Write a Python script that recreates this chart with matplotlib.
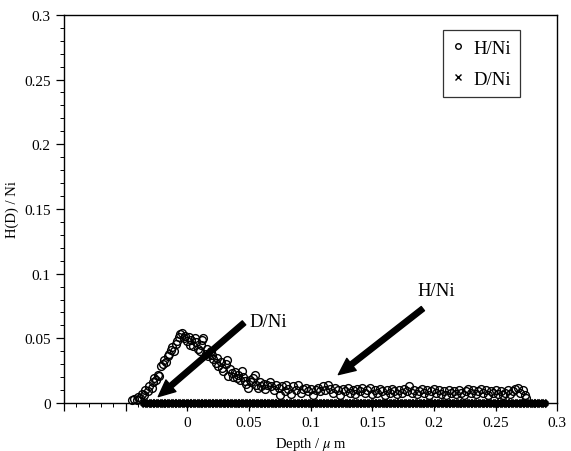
import matplotlib
matplotlib.use("Agg")
import matplotlib.pyplot as plt
from matplotlib.lines import Line2D
from matplotlib.ticker import MultipleLocator, FuncFormatter

# H/Ni profile (depth in um, ratio)
h_depth = [-0.045, -0.043, -0.041, -0.040, -0.038, -0.037, -0.035, -0.034, -0.032, -0.031,
           -0.029, -0.028, -0.027, -0.025, -0.024, -0.023, -0.021, -0.020, -0.019, -0.017,
           -0.016, -0.015, -0.013, -0.012, -0.011, -0.009, -0.008, -0.007, -0.006, -0.004,
           -0.003, -0.002, 0.000, 0.001, 0.002, 0.003, 0.005, 0.006, 0.007, 0.009,
           0.010, 0.011, 0.012, 0.013, 0.015, 0.016, 0.017, 0.019, 0.020, 0.021,
           0.023, 0.024, 0.025, 0.027, 0.028, 0.029, 0.031, 0.032, 0.033, 0.035,
           0.036, 0.037, 0.039, 0.040, 0.041, 0.043, 0.044, 0.045, 0.047, 0.048,
           0.049, 0.051, 0.052, 0.053, 0.055, 0.056, 0.057, 0.059, 0.060, 0.062,
           0.063, 0.065, 0.067, 0.068, 0.070, 0.072, 0.074, 0.075, 0.077, 0.079,
           0.080, 0.082, 0.084, 0.086, 0.088, 0.090, 0.092, 0.094, 0.096, 0.098,
           0.100, 0.102, 0.104, 0.106, 0.108, 0.110, 0.112, 0.114, 0.116, 0.118,
           0.120, 0.122, 0.124, 0.126, 0.128, 0.130, 0.132, 0.134, 0.136, 0.138,
           0.140, 0.142, 0.144, 0.146, 0.148, 0.150, 0.152, 0.154, 0.156, 0.158,
           0.160, 0.162, 0.164, 0.166, 0.168, 0.170, 0.172, 0.174, 0.176, 0.178,
           0.180, 0.182, 0.184, 0.186, 0.188, 0.190, 0.192, 0.194, 0.196, 0.198,
           0.200, 0.202, 0.204, 0.206, 0.208, 0.210, 0.212, 0.214, 0.216, 0.218,
           0.220, 0.222, 0.224, 0.226, 0.228, 0.230, 0.232, 0.234, 0.236, 0.238,
           0.240, 0.242, 0.244, 0.246, 0.248, 0.250, 0.252, 0.254, 0.256, 0.258,
           0.260, 0.262, 0.264, 0.266, 0.268, 0.270, 0.272, 0.274, 0.275]
h_ratio = [0.002, 0.003, 0.002, 0.005, 0.004, 0.007, 0.006, 0.010, 0.009, 0.013,
           0.012, 0.016, 0.019, 0.018, 0.022, 0.021, 0.029, 0.030, 0.033, 0.032,
           0.036, 0.038, 0.041, 0.043, 0.040, 0.046, 0.048, 0.051, 0.053, 0.054,
           0.050, 0.052, 0.048, 0.051, 0.045, 0.049, 0.044, 0.050, 0.047, 0.042,
           0.040, 0.045, 0.049, 0.050, 0.038, 0.042, 0.036, 0.040, 0.037, 0.034,
           0.031, 0.035, 0.029, 0.032, 0.027, 0.025, 0.030, 0.033, 0.021, 0.026,
           0.023, 0.020, 0.024, 0.019, 0.022, 0.018, 0.025, 0.020, 0.017, 0.015,
           0.012, 0.018, 0.016, 0.019, 0.022, 0.014, 0.012, 0.016, 0.013, 0.015,
           0.011, 0.014, 0.016, 0.013, 0.010, 0.014, 0.012, 0.006, 0.013, 0.009,
           0.014, 0.011, 0.007, 0.013, 0.010, 0.014, 0.008, 0.011, 0.012, 0.009,
           0.011, 0.006, 0.010, 0.012, 0.009, 0.013, 0.010, 0.014, 0.011, 0.008,
           0.012, 0.010, 0.006, 0.011, 0.009, 0.012, 0.008, 0.010, 0.007, 0.011,
           0.009, 0.012, 0.008, 0.010, 0.012, 0.007, 0.010, 0.008, 0.011, 0.009,
           0.006, 0.010, 0.008, 0.011, 0.009, 0.007, 0.010, 0.008, 0.011, 0.009,
           0.013, 0.008, 0.010, 0.007, 0.009, 0.011, 0.008, 0.010, 0.006, 0.009,
           0.011, 0.008, 0.010, 0.007, 0.009, 0.006, 0.010, 0.008, 0.009, 0.007,
           0.010, 0.008, 0.006, 0.009, 0.011, 0.008, 0.010, 0.007, 0.009, 0.011,
           0.008, 0.010, 0.006, 0.009, 0.008, 0.010, 0.007, 0.009, 0.006, 0.008,
           0.010, 0.007, 0.009, 0.011, 0.012, 0.008, 0.010, 0.006, 0.004]

# D/Ni profile: flat at zero over the whole measured depth
d_depth = [-0.035, -0.032, -0.029, -0.026, -0.023, -0.020, -0.017, -0.014, -0.011, -0.008,
           -0.005, -0.002, 0.001, 0.004, 0.007, 0.010, 0.013, 0.016, 0.019, 0.022,
           0.025, 0.028, 0.031, 0.034, 0.037, 0.040, 0.043, 0.046, 0.049, 0.052,
           0.055, 0.058, 0.061, 0.064, 0.067, 0.070, 0.073, 0.076, 0.079, 0.082,
           0.085, 0.088, 0.091, 0.094, 0.097, 0.100, 0.103, 0.106, 0.109, 0.112,
           0.115, 0.118, 0.121, 0.124, 0.127, 0.130, 0.133, 0.136, 0.139, 0.142,
           0.145, 0.148, 0.151, 0.154, 0.157, 0.160, 0.163, 0.166, 0.169, 0.172,
           0.175, 0.178, 0.181, 0.184, 0.187, 0.190, 0.193, 0.196, 0.199, 0.202,
           0.205, 0.208, 0.211, 0.214, 0.217, 0.220, 0.223, 0.226, 0.229, 0.232,
           0.235, 0.238, 0.241, 0.244, 0.247, 0.250, 0.253, 0.256, 0.259, 0.262,
           0.265, 0.268, 0.271, 0.274, 0.277, 0.280, 0.283, 0.286, 0.289]
d_ratio = [0.0] * len(d_depth)

plt.rcParams['font.family'] = ['Liberation Serif', 'DejaVu Serif']
plt.rcParams['mathtext.fontset'] = 'stix'

fig = plt.figure(figsize=(5.71, 4.52), dpi=100)
ax = fig.add_axes([0.112, 0.106, 0.864, 0.859])

ax.plot(h_depth, h_ratio, 'o', mfc='none', mec='black', ms=5.6, mew=1.0, zorder=3, clip_on=False)
# the dense D/Ni markers merge into one thick band
ax.plot(d_depth, d_ratio, 'x', color='black', ms=4.5, mew=3.4, zorder=4, clip_on=False)

ax.set_xlim(-0.1, 0.3)
ax.set_ylim(0, 0.3)
ax.xaxis.set_major_locator(MultipleLocator(0.05))
ax.xaxis.set_minor_locator(MultipleLocator(0.01))
ax.yaxis.set_major_locator(MultipleLocator(0.05))
ax.yaxis.set_minor_locator(MultipleLocator(0.01))
ax.xaxis.set_major_formatter(FuncFormatter(lambda v, p: '' if v < -1e-9 else '%g' % round(v, 3)))
ax.yaxis.set_major_formatter(FuncFormatter(lambda v, p: '%g' % round(v, 3)))
ax.tick_params(which='both', direction='out', top=False, right=False, labelsize=11)
ax.tick_params(which='major', length=6, width=0.9)
ax.tick_params(which='minor', length=3, width=0.7)
for s in ax.spines.values():
    s.set_linewidth(1.0)

ax.set_xlabel('Depth / $\\mu$ m', fontsize=10.5, labelpad=4)
ax.set_ylabel('H(D) / Ni', fontsize=10.5, labelpad=4)

# arrows
ax.annotate('', xy=(-0.0235, 0.005), xytext=(0.046, 0.062),
            arrowprops=dict(facecolor='black', edgecolor='black', width=3.8,
                            headwidth=11, headlength=12, shrink=0), zorder=5)
ax.text(0.050, 0.063, 'D/Ni', fontsize=13.5, ha='left', va='center')
ax.annotate('', xy=(0.1225, 0.022), xytext=(0.191, 0.073),
            arrowprops=dict(facecolor='black', edgecolor='black', width=3.8,
                            headwidth=11, headlength=12, shrink=0), zorder=5)
ax.text(0.187, 0.087, 'H/Ni', fontsize=13.5, ha='left', va='center')

handles = [Line2D([], [], ls='none', marker='o', mfc='none', mec='black', ms=4.0, mew=1.0),
           Line2D([], [], ls='none', marker='x', color='black', ms=4.0, mew=1.0)]
leg = ax.legend(handles, ['H/Ni', 'D/Ni'], loc='upper right', bbox_to_anchor=(0.925, 0.96),
                borderaxespad=0, fontsize=13.5, frameon=True, fancybox=False, edgecolor='black',
                handlelength=0.6, handletextpad=0.5, borderpad=0.5, labelspacing=0.75)
leg.get_frame().set_linewidth(0.9)

fig.savefig('out.png', dpi=100)
